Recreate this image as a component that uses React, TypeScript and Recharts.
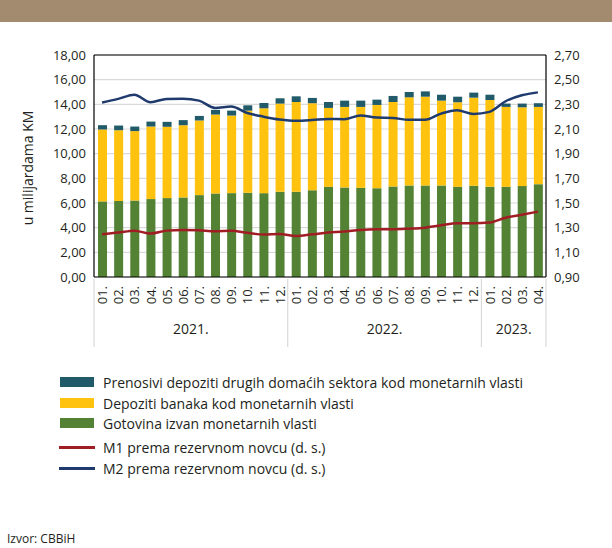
import React from "react"
import {
  ComposedChart, Bar, Line, XAxis, YAxis, CartesianGrid, ReferenceLine,
} from "recharts"

const MONTHS = [
  "01.", "02.", "03.", "04.", "05.", "06.", "07.", "08.", "09.", "10.", "11.", "12.",
  "01.", "02.", "03.", "04.", "05.", "06.", "07.", "08.", "09.", "10.", "11.", "12.",
  "01.", "02.", "03.", "04.",
]

const YEARS = [
  { label: "2021.", start: 0, count: 12 },
  { label: "2022.", start: 12, count: 12 },
  { label: "2023.", start: 24, count: 4 },
]

// u milijardama KM
const GOTOVINA = [
  6.13, 6.16, 6.20, 6.32, 6.40, 6.45, 6.64, 6.77, 6.80, 6.83, 6.80, 6.91,
  6.91, 7.04, 7.31, 7.26, 7.23, 7.20, 7.34, 7.42, 7.42, 7.42, 7.31, 7.39,
  7.31, 7.31, 7.37, 7.53,
]
const DEPOZITI_BANAKA = [
  5.83, 5.74, 5.63, 5.88, 5.78, 5.86, 6.05, 6.40, 6.29, 6.66, 6.88, 7.15,
  7.28, 7.05, 6.40, 6.53, 6.56, 6.75, 6.85, 7.15, 7.20, 6.88, 6.86, 7.15,
  7.04, 6.48, 6.39, 6.26,
]
const PRENOSIVI = [
  0.35, 0.38, 0.37, 0.40, 0.40, 0.41, 0.37, 0.38, 0.40, 0.43, 0.43, 0.43,
  0.46, 0.43, 0.48, 0.51, 0.51, 0.43, 0.49, 0.43, 0.43, 0.48, 0.45, 0.41,
  0.43, 0.27, 0.30, 0.30,
]

// desna skala
const M1 = [
  1.247, 1.260, 1.276, 1.252, 1.276, 1.282, 1.279, 1.271, 1.274, 1.258, 1.244, 1.249,
  1.233, 1.246, 1.260, 1.268, 1.282, 1.287, 1.287, 1.292, 1.300, 1.319, 1.335, 1.335,
  1.341, 1.381, 1.405, 1.430,
]
const M2 = [
  2.314, 2.344, 2.378, 2.317, 2.344, 2.346, 2.330, 2.271, 2.282, 2.230, 2.200, 2.177,
  2.166, 2.172, 2.182, 2.180, 2.209, 2.193, 2.190, 2.174, 2.174, 2.225, 2.252, 2.222,
  2.239, 2.325, 2.373, 2.397,
]

const LEFT_TICKS = [0, 2, 4, 6, 8, 10, 12, 14, 16, 18]
const RIGHT_TICKS = [0.9, 1.1, 1.3, 1.5, 1.7, 1.9, 2.1, 2.3, 2.5, 2.7]

const data = MONTHS.map((m, i) => ({
  month: m,
  gotovina: GOTOVINA[i],
  depoziti: DEPOZITI_BANAKA[i],
  prenosivi: PRENOSIVI[i],
  m1: M1[i],
  m2: M2[i],
}))

const FONT = "'Open Sans', 'Noto Sans', sans-serif"
const TEXT = "#231f20"
const GREEN = "#548235"
const YELLOW = "#fec20f"
const TEAL = "#215a68"
const RED = "#a11d24"
const BLUE = "#1f3a6d"

const W = 612
const H = 548
const LEFT_W = 94
const RIGHT_W = 66
const PLOT_W = W - LEFT_W - RIGHT_W
const BAND = PLOT_W / MONTHS.length

const fmt = (v: number) => v.toFixed(2).replace(".", ",")

function MonthTick(props: any) {
  const { x, y, payload, index } = props
  const year = YEARS.find((g) => g.start === index)
  const isLast = index === MONTHS.length - 1
  return (
    <g>
      <text
        x={x}
        y={y + 7}
        transform={`rotate(-90 ${x} ${y + 7})`}
        textAnchor="end"
        dominantBaseline="central"
        fontSize={13}
        fontFamily={FONT}
        fill={TEXT}
      >
        {payload.value}
      </text>
      {year && (
        <>
          <line x1={x - BAND / 2} x2={x - BAND / 2} y1={y} y2={y + 68} stroke="#d9d9d9" strokeWidth={1.2} />
          <text
            x={x + ((year.count - 1) / 2) * BAND}
            y={y + 55}
            textAnchor="middle"
            fontSize={14}
            fontFamily={FONT}
            fill={TEXT}
          >
            {year.label}
          </text>
        </>
      )}
      {isLast && (
        <line x1={x + BAND / 2} x2={x + BAND / 2} y1={y} y2={y + 68} stroke="#d9d9d9" strokeWidth={1.2} />
      )}
    </g>
  )
}

const legendItems = [
  { label: "Prenosivi depoziti drugih domaćih sektora kod monetarnih vlasti", color: TEAL, kind: "bar", cy: 382 },
  { label: "Depoziti banaka kod monetarnih vlasti", color: YELLOW, kind: "bar", cy: 403 },
  { label: "Gotovina izvan monetarnih vlasti", color: GREEN, kind: "bar", cy: 423 },
  { label: "M1 prema rezervnom novcu (d. s.)", color: RED, kind: "line", cy: 447 },
  { label: "M2 prema rezervnom novcu (d. s.)", color: BLUE, kind: "line", cy: 468 },
]

export default function App() {
  return (
    <div style={{ position: "absolute", left: 0, top: 0, width: W, height: H, background: "#fff", fontFamily: FONT }}>
      <div style={{ position: "absolute", left: 0, top: 0, width: W, height: 22, background: "#a38b6f" }} />

      <ComposedChart
        width={W}
        height={H}
        data={data}
        margin={{ top: 55, right: 0, left: 0, bottom: 211 }}
        barCategoryGap={0}
      >
        <CartesianGrid yAxisId="left" vertical={false} stroke="#d9d9d9" strokeWidth={1.2} />
        <XAxis
          dataKey="month"
          interval={0}
          height={60}
          tickLine={false}
          tickSize={0}
          axisLine={{ stroke: "#000", strokeWidth: 1.2 }}
          tick={<MonthTick />}
        />
        <YAxis
          yAxisId="left"
          width={LEFT_W}
          domain={[0, 18]}
          ticks={LEFT_TICKS}
          interval={0}
          tickLine={false}
          axisLine={{ stroke: "#000", strokeWidth: 1.2 }}
          tickFormatter={fmt}
          tick={{ fontSize: 13, fontFamily: FONT, fill: TEXT }}
        />
        <YAxis
          yAxisId="right"
          orientation="right"
          width={RIGHT_W}
          domain={[0.9, 2.7]}
          ticks={RIGHT_TICKS}
          interval={0}
          tickLine={false}
          axisLine={{ stroke: "#000", strokeWidth: 1.2 }}
          tickFormatter={fmt}
          tick={{ fontSize: 13, fontFamily: FONT, fill: TEXT }}
        />
        <ReferenceLine yAxisId="left" y={18} stroke="#000" strokeWidth={1.2} />
        <Bar yAxisId="left" dataKey="gotovina" stackId="a" fill={GREEN} barSize={9} isAnimationActive={false} />
        <Bar yAxisId="left" dataKey="depoziti" stackId="a" fill={YELLOW} barSize={9} isAnimationActive={false} />
        <Bar yAxisId="left" dataKey="prenosivi" stackId="a" fill={TEAL} barSize={9} isAnimationActive={false} />
        <Line yAxisId="right" dataKey="m1" type="monotone" stroke={RED} strokeWidth={2.5} dot={false} isAnimationActive={false} />
        <Line yAxisId="right" dataKey="m2" type="monotone" stroke={BLUE} strokeWidth={2.5} dot={false} isAnimationActive={false} />
      </ComposedChart>

      <div
        style={{
          position: "absolute",
          left: 27,
          top: 168,
          transform: "translate(-50%, -50%) rotate(-90deg)",
          whiteSpace: "nowrap",
          fontSize: 14,
          color: TEXT,
        }}
      >
        u milijardama KM
      </div>

      {legendItems.map((it) => (
        <div
          key={it.label}
          style={{ position: "absolute", left: 60, top: it.cy - 10, height: 20, display: "flex", alignItems: "center" }}
        >
          {it.kind === "bar" ? (
            <div style={{ width: 34, height: 10, background: it.color }} />
          ) : (
            <div style={{ width: 36, height: 3, background: it.color, marginLeft: -1, marginRight: -1 }} />
          )}
          <span style={{ marginLeft: 9, fontSize: 14, color: TEXT, whiteSpace: "nowrap" }}>{it.label}</span>
        </div>
      ))}

      <div style={{ position: "absolute", left: 7, top: 530, fontSize: 12, color: TEXT }}>Izvor: CBBiH</div>
    </div>
  )
}
